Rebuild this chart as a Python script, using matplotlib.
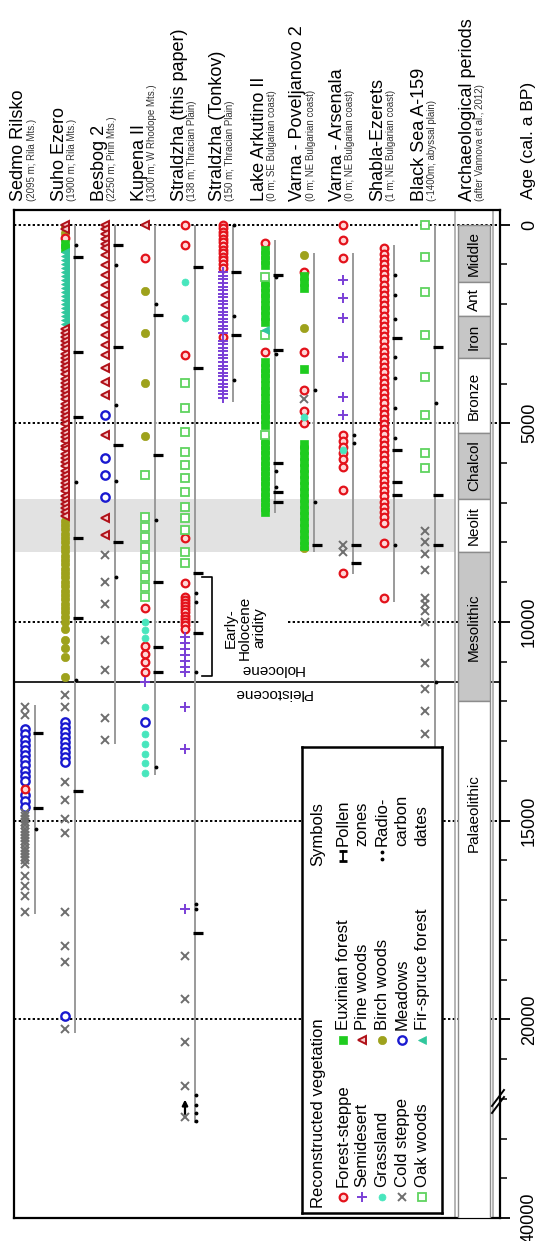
import numpy as np
import matplotlib.pyplot as plt
from matplotlib.patches import Rectangle
from matplotlib.lines import Line2D

plt.rcParams['font.family'] = ['Liberation Sans', 'DejaVu Sans']

W, H = 538, 1241

# site columns: marker x (px), record line sits 10 px to the right
site_names = ['Sedmo Rilsko', 'Suho Ezero', 'Besbog 2', 'Kupena II',
              'Straldzha (this paper)', 'Straldzha (Tonkov)', 'Lake Arkutino II',
              'Varna - Poveljanovo 2', 'Varna - Arsenala', 'Shabla-Ezerets',
              'Black Sea A-159']
site_notes = ['(2095 m; Rila Mts.)', '(1900 m; Rila Mts.)', '(2250 m; Pirin Mts.)',
              '(1300 m; W Rhodope Mts.)', '(138 m; Thracian Plain)',
              '(150 m; Thracian Plain)', '(0 m; SE Bulgarian coast)',
              '(0 m; NE Bulgarian coast)', '(0 m; NE Bulgarian coast)',
              '(1 m; NE Bulgarian coast)', '(-1400m; abyssal plain)']
site_x = [25, 65, 105, 145, 185, 223, 265, 304, 343, 384, 425]
record_span = [(12100, 17350), (0, 20350), (0, 13080), (0, 13840), (0, 37600),
               (0, 4470), (390, 7250), (710, 8230), (720, 8800), (520, 9490),
               (0, 13500)]

# reconstructed vegetation per site (ages, cal. a BP)
sedmo = {
    'MD': [12700, 12830, 12960, 13090, 13220, 13350, 13480, 13610, 13740, 13870,
           14000, 14350, 14500, 14650],
    'FS': [14200],
    'CS': [12150, 12330, 14800, 14880, 14960, 15040, 15120, 15200, 15280, 15360,
           15440, 15520, 15600, 15680, 15760, 15840, 15920, 16000, 16100, 16400,
           16650, 16900, 17300],
}
suho = {
    'BW': [60, 220, 7450, 7560, 7670, 7780, 7890, 8000, 8110, 8220, 8330, 8440,
           8550, 8660, 8770, 8880, 8990, 9100, 9210, 9320, 9430, 9540, 9650, 9760,
           9870, 10000, 10180, 10450, 10650, 10870, 11380],
    'FS': [330],
    'EF': [480, 600],
    'FF': [700, 800, 900, 1000, 1100, 1200, 1300, 1400, 1500, 1600, 1700, 1800,
           1900, 2000, 2100, 2200, 2300, 2400, 2500],
    'PW': [0, 120, 2620, 2720, 2830, 2930, 3040, 3140, 3250, 3350, 3460, 3560,
           3670, 3770, 3880, 3980, 4090, 4190, 4300, 4400, 4510, 4610, 4720, 4820,
           4930, 5030, 5140, 5240, 5350, 5450, 5560, 5660, 5770, 5870, 5980, 6080,
           6190, 6290, 6400, 6500, 6610, 6710, 6820, 6920, 7030, 7130, 7240, 7340],
    'CS': [11830, 12150, 14040, 14470, 14970, 15300, 17310, 18160, 18570, 20250],
    'MD': [12530, 12650, 12780, 12900, 13030, 13150, 13280, 13400, 13530, 19920],
}
besbog = {
    'PW': [0, 120, 240, 360, 480, 590, 760, 1010, 1260, 1520, 1770, 2020, 2270,
           2520, 2770, 3020, 3270, 3600, 3950, 4280, 5290, 7380, 7800],
    'MD': [4790, 5870, 6300, 6850],
    'CS': [8310, 8990, 9560, 10450, 11200, 12410, 12960],
}
kupena = {
    'PW': [0],
    'FS': [830, 9640, 10600, 10800, 11000, 11250],
    'BW': [1670, 2720, 3980, 5330],
    'OW': [6300, 7370, 7620, 7870, 8120, 8370, 8620, 8870, 9120, 9370],
    'GR': [10000, 10200, 10400, 12150, 12830, 13080, 13320, 13560, 13800],
    'SD': [11500],
    'MD': [12530],
}
straldzha = {
    'FS': [0, 510, 3290, 7880, 9010, 9360, 9440, 9520, 9600, 9680, 9760, 9840,
           9920, 10000, 10080, 10190],
    'GR': [1440, 2350],
    'OW': [3980, 4610, 5210, 5720, 6040, 6370, 6720, 7100, 7380, 7680, 8230, 8510],
    'SD': [10370, 10520, 10680, 10830, 10990, 11130, 11250, 12130, 13210, 17230],
    'CS': [18410, 19490, 20570, 21680, 37450],
}
tonkov = {
    'FS': [0, 90, 180, 270, 360, 450, 540, 630, 720, 810, 900, 1000, 1100, 2830],
    'SD': [1200, 1290, 1380, 1470, 1560, 1650, 1740, 1830, 1920, 2010, 2100,
           2190, 2280, 2370, 2460, 2550, 2640, 2730, 2920, 3010, 3100, 3190,
           3280, 3370, 3460, 3550, 3640, 3730, 3820, 3910, 4000, 4090, 4180,
           4270, 4360],
}
arkutino = {
    'FS': [460, 3200],
    'EF': [630, 760, 890, 1010, 1440, 1580, 1720, 1850, 2020, 2160, 2300, 2450,
           3460, 3600, 3740, 3870, 4040, 4200, 4370, 4540, 4620, 4760, 4900,
           5040, 5420, 5550, 5680, 5810, 5940, 6070, 6200, 6330, 6460, 6590,
           6720, 6850, 6980, 7110, 7230],
    'OW': [1320, 2770, 5290],
    'FF': [2650],
}
poveljanovo = {
    'BW': [770, 2600, 5600, 8140],
    'FS': [1190, 3200, 4160, 4700, 5000],
    'EF': [1300, 1450, 1600, 3630, 5530, 5680, 5830, 5980, 6130, 6280, 6430,
           6580, 6730, 6880, 7030, 7180, 7330, 7480, 7630, 7780, 7930, 8080],
    'CS': [4400],
    'GR': [4850],
}
arsenala = {
    'FS': [0, 390, 850, 5290, 5450, 5600, 5750, 5900, 6100, 6670, 8760],
    'SD': [1390, 1850, 2350, 3330, 4340, 4790],
    'GR': [5680],
    'CS': [8060, 8230],
}
shabla = {
    'FS': [600, 730, 860, 990, 1120, 1250, 1380, 1510, 1640, 1770, 1900, 2030,
           2160, 2290, 2420, 2550, 2680, 2810, 2940, 3070, 3200, 3330, 3460,
           3590, 3720, 3850, 3980, 4110, 4240, 4370, 4500, 4630, 4760, 4890,
           5020, 5150, 5280, 5410, 5540, 5670, 5800, 5930, 6060, 6190, 6320,
           6450, 6580, 6710, 6840, 6970, 7100, 7230, 7360, 7500, 8010, 9390],
}
blacksea = {
    'OW': [0, 820, 1700, 2780, 3830, 4790, 5740, 6120],
    'CS': [7700, 8000, 8300, 8690, 9390, 9560, 9720, 9990, 11030, 11700, 12230,
           12830, 13360],
}
site_veg = [sedmo, suho, besbog, kupena, straldzha, tonkov, arkutino,
            poveljanovo, arsenala, shabla, blacksea]

pollen_zones = [[12800, 14670], [820, 3210, 4840, 7880, 9900, 14260],
                [510, 3080, 5540, 7980], [2270, 5790, 8990, 10620, 11250],
                [1070, 3610, 8760, 10270, 17820], [1200, 2780],
                [1270, 3160, 6000, 6720, 6980], [8060], [8060, 8510],
                [2850, 5670, 6470, 6800], [3080, 6800, 8060]]
radio_dates = [[15220], [520, 6480, 11450], [1010, 4530, 6460, 8880],
               [2000, 7430, 13640], [9260, 9490, 11250, 17100, 17230, 21900,
                                     37150, 37350, 37550],
               [0, 2300, 3900], [1320, 3250, 6200, 6600], [4160, 6980],
               [5290, 5500], [1270, 1780, 2370, 3330, 3870, 4620, 5370, 8060],
               [4500, 11500]]

# archaeological periods
periods = ['Middle', 'Ant', 'Iron', 'Bronze', 'Chalcol', 'Neolit', 'Mesolithic',
           'Palaeolithic']
period_start = [0, 1450, 2300, 3350, 5250, 6900, 8250, 12000]
period_end = [1450, 2300, 3350, 5250, 6900, 8250, 12000, 40000]
period_label_age = [725, 1875, 2825, 4300, 6075, 7575, 10125, 14800]
period_shaded = [True, False, True, False, True, False, True, False]

veg_keys = ['FS', 'SD', 'GR', 'CS', 'OW', 'EF', 'PW', 'BW', 'MD', 'FF']
veg_labels = ['Forest-steppe', 'Semidesert', 'Grassland', 'Cold steppe', 'Oak woods',
              'Euxinian forest', 'Pine woods', 'Birch woods', 'Meadows',
              'Fir-spruce forest']
veg_style = {
    'FS': dict(marker='o', ms=5.5, mfc='#ffd6d6', mec='#e3121b', mew=1.6),
    'SD': dict(marker='+', ms=7, mec='#7a3fd6', mew=1.4),
    'GR': dict(marker='o', ms=5, mfc='#48e6bd', mec='#48e6bd', mew=0.5),
    'CS': dict(marker='x', ms=6, mec='#6e6e6e', mew=1.4),
    'OW': dict(marker='s', ms=5.5, mfc='white', mec='#5fd35f', mew=1.3),
    'EF': dict(marker='s', ms=6, mfc='#1fcc1f', mec='#1fcc1f', mew=0.5),
    'PW': dict(marker='<', ms=6, mfc='#f6c8c8', mec='#b01018', mew=1.4),
    'BW': dict(marker='o', ms=6, mfc='#9ea21c', mec='#9ea21c', mew=0.5),
    'MD': dict(marker='o', ms=6, mfc='white', mec='#1a1ad0', mew=1.7),
    'FF': dict(marker='<', ms=6, mfc='#2fc79c', mec='#2fc79c', mew=0.5),
}


def fwd(a):
    # axis is broken between 22 ka and 37 ka
    return np.interp(a, [-5000, 22000, 37000, 50000], [-5000, 22000, 22001, 35000])


def inv(v):
    return np.interp(v, [-5000, 22000, 22001, 35000], [-5000, 22000, 37000, 50000])


def fx(x):
    return x / W


def fy(y):
    return 1 - y / H


L, R, T, B = 14, 500, 210, 1218
fig = plt.figure(figsize=(W / 100, H / 100), dpi=100)
ax = fig.add_axes([fx(L), fy(B), (R - L) / W, (B - T) / H])
ax.set_xlim(L, R)
ax.set_yscale('function', functions=(fwd, inv))
ax.set_ylim(40000, -367)

for s in ax.spines.values():
    s.set_linewidth(1.6)

# ticks on the right, age axis
ax.yaxis.tick_right()
ax.set_xticks([])
ax.set_yticks([0, 5000, 10000, 15000, 20000, 40000])
ax.set_yticklabels(['0', '5000', '10000', '15000', '20000', '40000'],
                   rotation=90, va='center', fontsize=13)
ax.set_yticks([a for a in range(1000, 22001, 1000) if a % 5000] + [38000, 39000],
              minor=True)
ax.tick_params(axis='y', which='major', direction='out', length=7, width=1.3, pad=8)
ax.tick_params(axis='y', which='minor', direction='out', length=5, width=1.1)

# Neolithic band
ax.axhspan(6900, 8250, xmin=0, xmax=(455 - L) / (R - L), color='#e2e2e2', lw=0, zorder=0)

# dotted reference lines
for age in [0, 5000, 10000, 15000, 20000]:
    if age == 10000:
        segs = [(L, 199), (288, R)]
    else:
        segs = [(L, R)]
    for x0, x1 in segs:
        ax.hlines(age, x0, x1, colors='k', linestyles=(0, (1.2, 1.2)), lw=1.4, zorder=1)

# Holocene / Pleistocene boundary
ax.hlines(11500, L, R, colors='k', lw=1.2, zorder=1)
ax.text(272, 11180, 'Holocene', rotation=180, ha='center', va='center', fontsize=11)
ax.text(272, 11800, 'Pleistocene', rotation=180, ha='center', va='center', fontsize=11)

# records
for i, x in enumerate(site_x):
    lx = x + 10
    ax.vlines(lx, record_span[i][0], record_span[i][1], colors='#9a9a9a', lw=1.4, zorder=2)
    for key, ages in site_veg[i].items():
        ax.plot(np.full(len(ages), x), ages, ls='none', zorder=3, **veg_style[key])
    pz = pollen_zones[i]
    ax.plot(np.full(len(pz), lx + 2.5), pz, ls='none', marker='_', ms=7.5, mew=2.3,
            color='k', zorder=4)
    rd = radio_dates[i]
    ax.plot(np.full(len(rd), lx + 1), rd, ls='none', marker='.', ms=3.5,
            color='k', zorder=4)

# arrow on the Straldzha base
ax.annotate('', xy=(185, 21950), xytext=(185, 37450),
            arrowprops=dict(arrowstyle='-|>', color='k', lw=1.6, mutation_scale=8),
            zorder=4)

# Early-Holocene aridity bracket
ax.plot([202, 212, 212, 202], [8860, 8860, 11350, 11350], color='k', lw=1.2, zorder=3)
ax.text(245, 10150, 'Early-\nHolocene\naridity', rotation=90, ha='center',
        va='center', fontsize=11, linespacing=1.0)

# archaeological periods column
ax.vlines([455, 493], -367, 40000, colors='#a8a8a8', lw=1.2, zorder=2)
for i, name in enumerate(periods):
    ax.add_patch(Rectangle((458, period_start[i]), 32, period_end[i] - period_start[i],
                           facecolor='#c6c6c6' if period_shaded[i] else 'white',
                           edgecolor='#8c8c8c', lw=1.0, zorder=5))
    ax.text(474, period_label_age[i], name, rotation=90, ha='center', va='center',
            fontsize=11, zorder=6, clip_on=True)

# axis break marks
for dy in (0, 7):
    fig.add_artist(Line2D([fx(492), fx(504)], [fy(1106 + dy), fy(1090 + dy)],
                          color='k', lw=1.4))

# column headings
for i, x in enumerate(site_x):
    fig.text(fx(x - 6), fy(201), site_names[i], rotation=90, ha='center',
             va='bottom', fontsize=13)
    fig.text(fx(x + 7), fy(201), site_notes[i], rotation=90, ha='center',
             va='bottom', fontsize=7, color='#333333')
fig.text(fx(467), fy(201), 'Archaeological periods', rotation=90, ha='center',
         va='bottom', fontsize=13)
fig.text(fx(480), fy(201), '(after Vannova et al., 2012)', rotation=90,
         ha='center', va='bottom', fontsize=7, color='#333333')
fig.text(fx(528), fy(199), 'Age (cal. a BP)', rotation=90, ha='center',
         va='bottom', fontsize=12.5)

# legend panel (pixel coordinates)
lg = fig.add_axes([fx(302), fy(1213), 140 / W, (1213 - 747) / H])
lg.set_xlim(302, 442)
lg.set_ylim(1213, 747)
lg.set_xticks([])
lg.set_yticks([])
for s in lg.spines.values():
    s.set_linewidth(1.8)

row_x = [343, 362, 382, 402, 422]
lg.text(318, 1208, 'Reconstructed vegetation', rotation=90, ha='center',
        va='bottom', fontsize=12)
lg.text(318, 866, 'Symbols', rotation=90, ha='center', va='bottom', fontsize=12)
for j in range(5):
    k1, k2 = veg_keys[j], veg_keys[j + 5]
    lg.plot([row_x[j]], [1197], ls='none', **veg_style[k1])
    lg.text(row_x[j], 1187, veg_labels[j], rotation=90, ha='center', va='bottom',
            fontsize=12)
    lg.plot([row_x[j]], [1040], ls='none', **veg_style[k2])
    lg.text(row_x[j], 1030, veg_labels[j + 5], rotation=90, ha='center',
            va='bottom', fontsize=12)

lg.plot([343, 343], [851, 861], color='k', lw=1.3)
lg.plot([343, 343], [851, 861], ls='none', marker='_', ms=6, mew=2, color='k')
lg.plot([382, 382], [852, 859], ls='none', marker='.', ms=3.5, color='k')
for j, word in enumerate(['Pollen', 'zones', 'Radio-', 'carbon', 'dates']):
    lg.text(row_x[j], 846, word, rotation=90, ha='center', va='bottom', fontsize=12)

fig.savefig('out.png', dpi=100)
